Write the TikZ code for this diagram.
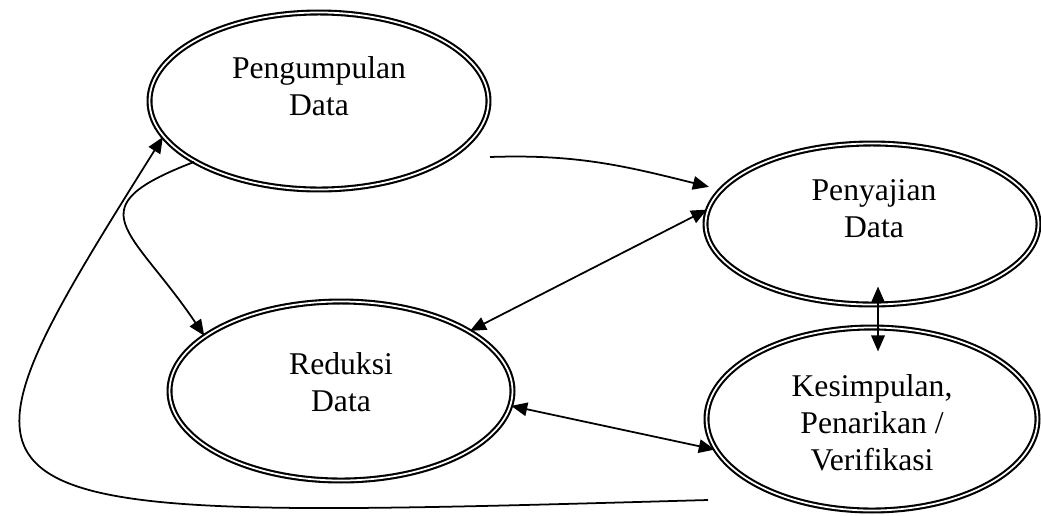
\documentclass[tikz,border=0pt]{standalone}
\usepackage{fontspec}
\setmainfont{Liberation Serif}
\usetikzlibrary{arrows.meta,shapes.geometric}

\begin{document}
\begin{tikzpicture}[
    phase/.style={ellipse, draw=black, line width=1.2pt, double, double distance=1pt,
                  inner sep=0pt},
    lbl/.style={align=center, inner sep=0pt, font=\fontsize{18}{21}\selectfont},
    arr/.style={-{Triangle[length=3.2mm,width=2.7mm]}, line width=1pt, draw=black},
    darr/.style={{Triangle[length=3.2mm,width=2.7mm]}-{Triangle[length=3.2mm,width=2.7mm]},
                 line width=1pt, draw=black}
]
    \useasboundingbox (0,0) rectangle (20.82,-10.30);

    \node[phase, minimum width=6.78cm, minimum height=3.54cm] (collect) at (6.38,-2.02) {};
    \node[phase, minimum width=6.66cm, minimum height=3.22cm] (present) at (17.44,-4.48) {};
    \node[phase, minimum width=6.86cm, minimum height=3.58cm] (reduce) at (6.82,-7.82) {};
    \node[phase, minimum width=6.62cm, minimum height=3.66cm] (conclude) at (17.44,-8.38) {};

    \node[lbl] (collect-t) at ([yshift=0.30cm]collect.center) {Pengumpulan\\Data};
    \node[lbl] (present-t) at ([xshift=0.04cm,yshift=0.31cm]present.center) {Penyajian\\Data};
    \node[lbl] (reduce-t) at ([yshift=0.18cm]reduce.center) {Reduksi\\Data};
    \node[lbl] (conclude-t) at ([yshift=-0.08cm]conclude.center) {Kesimpulan,\\Penarikan /\\Verifikasi};

    \coordinate (collect-out) at (9.80,-3.14);
    \coordinate (conclude-out) at (14.16,-10.00);

    \draw[arr] (collect-out) to[out=2, in=166] ([xshift=-0.28cm]present.166);
    \draw[arr] (collect.206) to[out=201, in=124, out distance=2.6cm, in distance=2.6cm] (reduce.158);
    \draw[arr] (conclude-out) .. controls +(-15.66,-0.44) and +(-4.86,-7.76) .. (collect.193);

    \foreach \a/\b in {present.175/reduce.25, reduce.355/conclude.191}
        \draw[darr] (\a) -- (\b);
    \draw[darr] ([xshift=0.12cm,yshift=0.38cm]present.south) -- ([xshift=0.12cm,yshift=-0.5cm]conclude.north);
\end{tikzpicture}
\end{document}
